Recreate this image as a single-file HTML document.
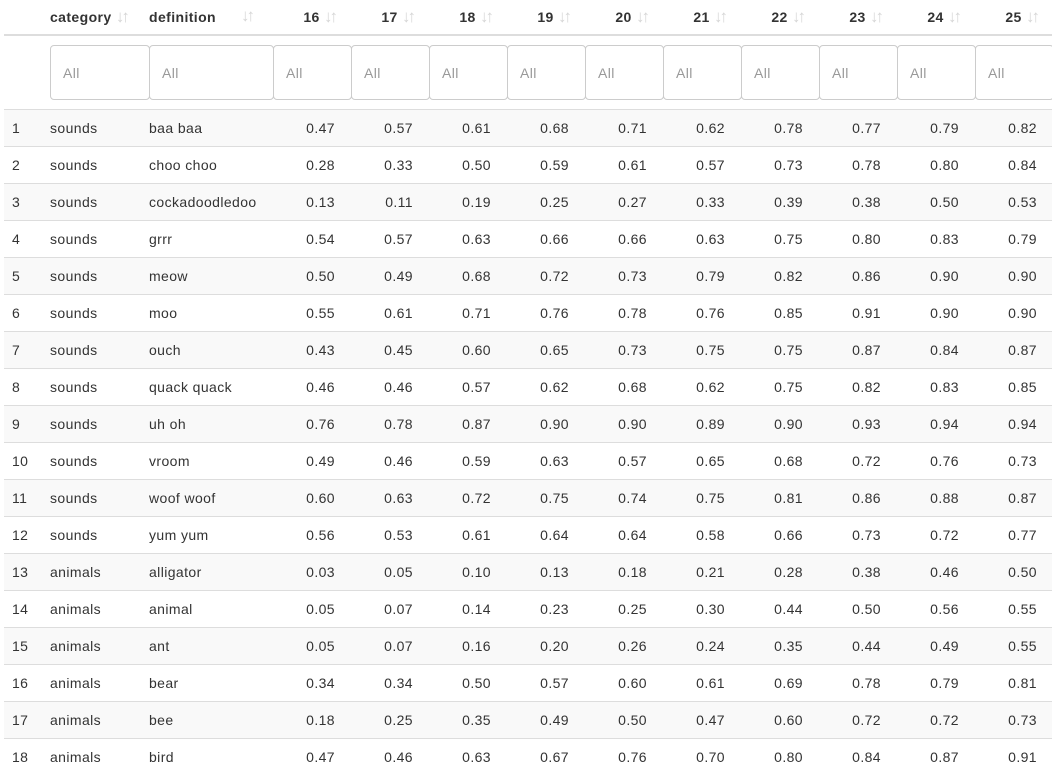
<!DOCTYPE html>
<html><head><meta charset="utf-8">
<style>
body{margin:0;width:1052px;height:774px;overflow:hidden;background:#fff;font-family:"Liberation Sans",sans-serif;font-size:14px;letter-spacing:0.4px;color:#333;position:relative}
.a{position:absolute;white-space:nowrap}
.hd{font-weight:bold;top:9px}
.sort{color:#d6d6d6;font-size:17px;letter-spacing:-3px;font-weight:bold;line-height:14px}
.inp{position:absolute;top:45px;height:55px;border:1px solid #ccc;border-radius:4px;background:#fff;box-sizing:border-box;color:#999;padding:19px 0 0 12px}
.row{position:absolute;left:4px;width:1048px;height:36px;border-top:1px solid #ddd}
.cell{position:absolute;top:10px;white-space:nowrap}
.num{text-align:right;width:78px}
</style></head>
<body>
<div style="position:absolute;left:4px;top:34px;width:1048px;height:2px;background:#ddd"></div>
<div id="root"></div>
<script>
const categories=["sounds","sounds","sounds","sounds","sounds","sounds","sounds","sounds","sounds","sounds","sounds","sounds","animals","animals","animals","animals","animals","animals"];
const definitions=["baa baa","choo choo","cockadoodledoo","grrr","meow","moo","ouch","quack quack","uh oh","vroom","woof woof","yum yum","alligator","animal","ant","bear","bee","bird"];
const ages=["16","17","18","19","20","21","22","23","24","25"];
const values=[
[0.47,0.57,0.61,0.68,0.71,0.62,0.78,0.77,0.79,0.82],
[0.28,0.33,0.50,0.59,0.61,0.57,0.73,0.78,0.80,0.84],
[0.13,0.11,0.19,0.25,0.27,0.33,0.39,0.38,0.50,0.53],
[0.54,0.57,0.63,0.66,0.66,0.63,0.75,0.80,0.83,0.79],
[0.50,0.49,0.68,0.72,0.73,0.79,0.82,0.86,0.90,0.90],
[0.55,0.61,0.71,0.76,0.78,0.76,0.85,0.91,0.90,0.90],
[0.43,0.45,0.60,0.65,0.73,0.75,0.75,0.87,0.84,0.87],
[0.46,0.46,0.57,0.62,0.68,0.62,0.75,0.82,0.83,0.85],
[0.76,0.78,0.87,0.90,0.90,0.89,0.90,0.93,0.94,0.94],
[0.49,0.46,0.59,0.63,0.57,0.65,0.68,0.72,0.76,0.73],
[0.60,0.63,0.72,0.75,0.74,0.75,0.81,0.86,0.88,0.87],
[0.56,0.53,0.61,0.64,0.64,0.58,0.66,0.73,0.72,0.77],
[0.03,0.05,0.10,0.13,0.18,0.21,0.28,0.38,0.46,0.50],
[0.05,0.07,0.14,0.23,0.25,0.30,0.44,0.50,0.56,0.55],
[0.05,0.07,0.16,0.20,0.26,0.24,0.35,0.44,0.49,0.55],
[0.34,0.34,0.50,0.57,0.60,0.61,0.69,0.78,0.79,0.81],
[0.18,0.25,0.35,0.49,0.50,0.47,0.60,0.72,0.72,0.73],
[0.47,0.46,0.63,0.67,0.76,0.70,0.80,0.84,0.87,0.91]];
const root=document.getElementById('root');
function mk(cls,txt,style){const d=document.createElement('div');d.className=cls;if(txt!=null)d.textContent=txt;d.style.cssText=style||'';root.appendChild(d);return d;}
let h=mk('a hd',null,'left:50px');


h.innerHTML='category <span class="sort">↓↑</span>';
h=mk('a hd',null,'left:149px');


h.innerHTML='definition<span class="sort" style="position:absolute;left:92px">↓↑</span>';
ages.forEach((a,i)=>{const x=273+i*78;
 const e=mk('a hd',null,'left:'+x+'px;width:62px;text-align:right');
 
 
 e.innerHTML=a+' <span class="sort">↓↑</span>';
});
const fl=[[50,99],[149,124]];ages.forEach((a,i)=>fl.push([273+i*78,78]));
fl.forEach((f,i)=>{const e=mk('inp','All','left:'+f[0]+'px;width:'+(f[1]+1)+'px');
 
 
});
values.forEach((r,ri)=>{const y=109+ri*37;
 const row=document.createElement('div');row.className='row';row.style.top=y+'px';
 row.style.background=ri%2===0?'#f9f9f9':'#fff';
 
 
 root.appendChild(row);
 const add=(t,st,cls)=>{const c=document.createElement('div');c.className='cell '+(cls||'');c.textContent=t;c.style.cssText+=st;row.appendChild(c);return c;};
 add(String(ri+1),'left:8px;');
 add(categories[ri],'left:46px;');
 add(definitions[ri],'left:145px;');
 r.forEach((v,ci)=>{const c=add(v.toFixed(2),'left:'+(269+ci*78-16)+'px;','num');
  
  
 });
});
</script>
</body></html>
